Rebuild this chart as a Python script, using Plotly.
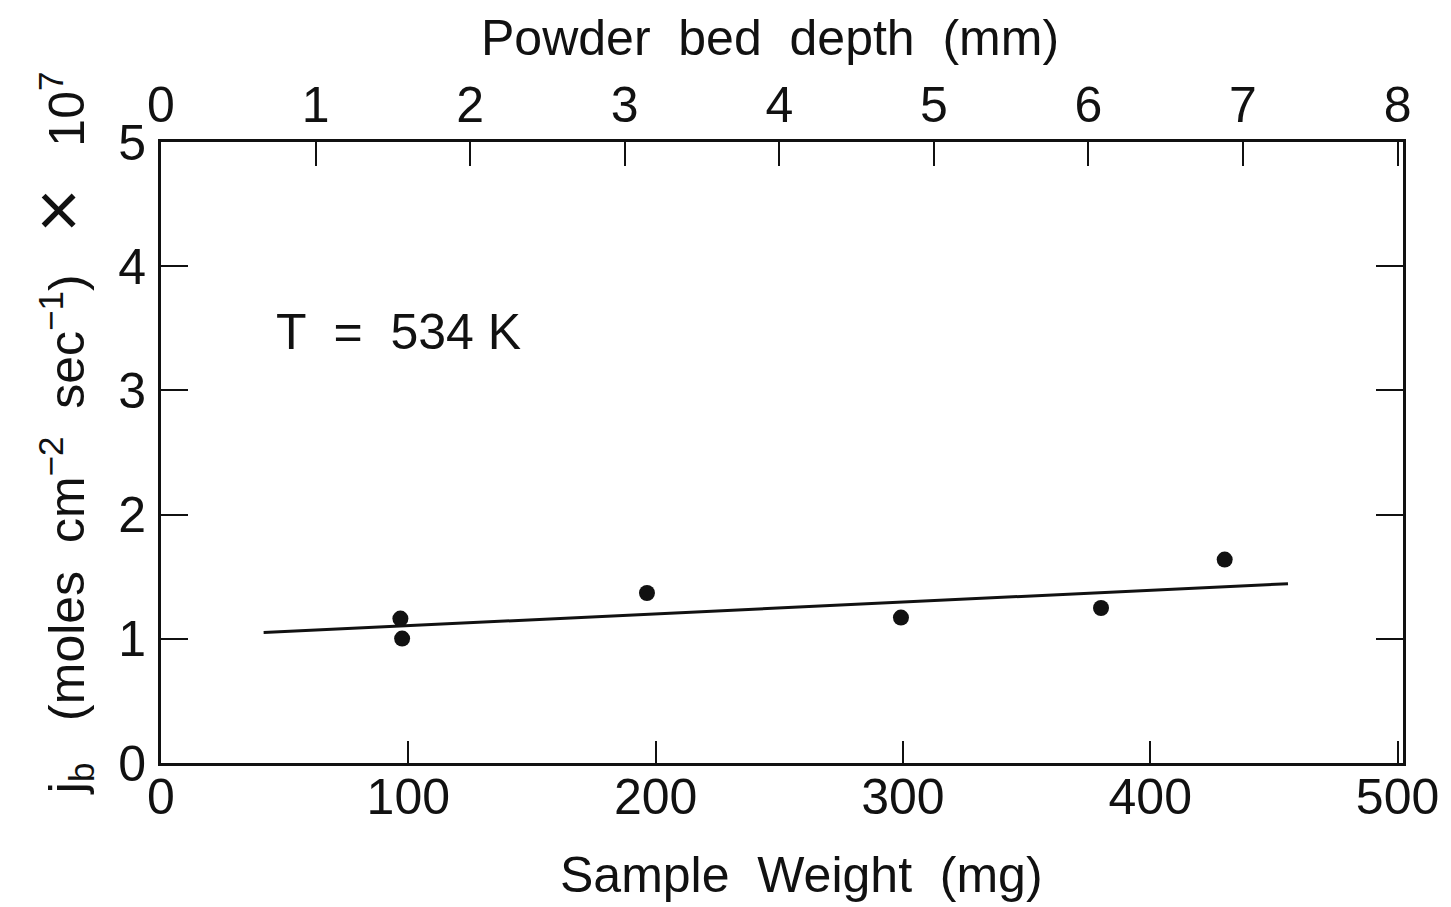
import plotly.graph_objects as go

# Data
sample_weight_mg = [96.8, 97.5, 196.5, 299.2, 380.1, 430.1]
jb_values = [1.163, 1.002, 1.369, 1.171, 1.248, 1.638]
fit_x = [41.5, 455.7]
fit_y = [1.050, 1.444]

x_ticks = [0, 100, 200, 300, 400, 500]
y_ticks = [0, 1, 2, 3, 4, 5]
top_ticks = [0, 1, 2, 3, 4, 5, 6, 7, 8]

FONT = "Liberation Sans, Arial, Helvetica, sans-serif"
BLACK = "#111111"
FS = 50

fig = go.Figure()
fig.add_trace(go.Scatter(x=fit_x, y=fit_y, mode="lines",
                         line=dict(color=BLACK, width=3), showlegend=False))
fig.add_trace(go.Scatter(x=sample_weight_mg, y=jb_values, mode="markers",
                         marker=dict(color=BLACK, size=16), showlegend=False))
# invisible trace to activate top axis
fig.add_trace(go.Scatter(x=[1], y=[0], xaxis="x2", mode="markers",
                         marker=dict(opacity=0), showlegend=False, hoverinfo="skip"))

fig.update_layout(
    width=1451, height=907,
    margin=dict(l=161, r=48, t=142, b=144, autoexpand=False),
    paper_bgcolor="white", plot_bgcolor="white",
    font=dict(family=FONT, size=FS, color=BLACK),
    xaxis=dict(range=[0, 502.2], tickvals=x_ticks, ticks="inside", ticklen=22,
               tickwidth=2, tickcolor=BLACK, showline=True, linewidth=3,
               linecolor=BLACK, showgrid=False, zeroline=False, automargin=False,
               ticklabelstandoff=-12),
    xaxis2=dict(range=[0, 8.035], tickvals=top_ticks, overlaying="x", side="top",
                ticks="inside", ticklen=24, tickwidth=2, tickcolor=BLACK,
                showline=True, linewidth=3, linecolor=BLACK, showgrid=False,
                zeroline=False, automargin=False, ticklabelstandoff=-3),
    yaxis=dict(range=[0, 5], tickvals=y_ticks, ticks="inside", ticklen=27,
               tickwidth=2, tickcolor=BLACK, showline=True, linewidth=3,
               linecolor=BLACK, mirror="ticks", showgrid=False, zeroline=False,
               automargin=False, ticklabelstandoff=2),
)

fig.add_annotation(x=0.5157, y=-0.18, xref="paper", yref="paper",
                   text="Sample  Weight  (mg)", showarrow=False,
                   xanchor="center", yanchor="middle", font=dict(size=FS, color=BLACK))
fig.add_annotation(x=0.4907, y=1.167, xref="paper", yref="paper",
                   text="Powder  bed  depth  (mm)", showarrow=False,
                   xanchor="center", yanchor="middle", font=dict(size=FS, color=BLACK))
fig.add_annotation(x=45.5, y=3.47, xref="x", yref="y", text="T  =  534 K",
                   showarrow=False, xanchor="left", yanchor="middle",
                   font=dict(size=FS, color=BLACK))
fig.add_annotation(x=-0.083, y=0.531, xref="paper", yref="paper",
                   text=("j<sub>b</sub>   (moles  cm<sup>−2</sup>  sec<sup>−1</sup>)   "
                         "<span style='font-size:76px'>×</span>   10<sup>7</sup>"),
                   textangle=-90, showarrow=False, xanchor="center", yanchor="middle",
                   font=dict(size=FS, color=BLACK))

fig.write_html("out.html", config={"displayModeBar": False},
               post_script="document.body.style.margin='0px';")
